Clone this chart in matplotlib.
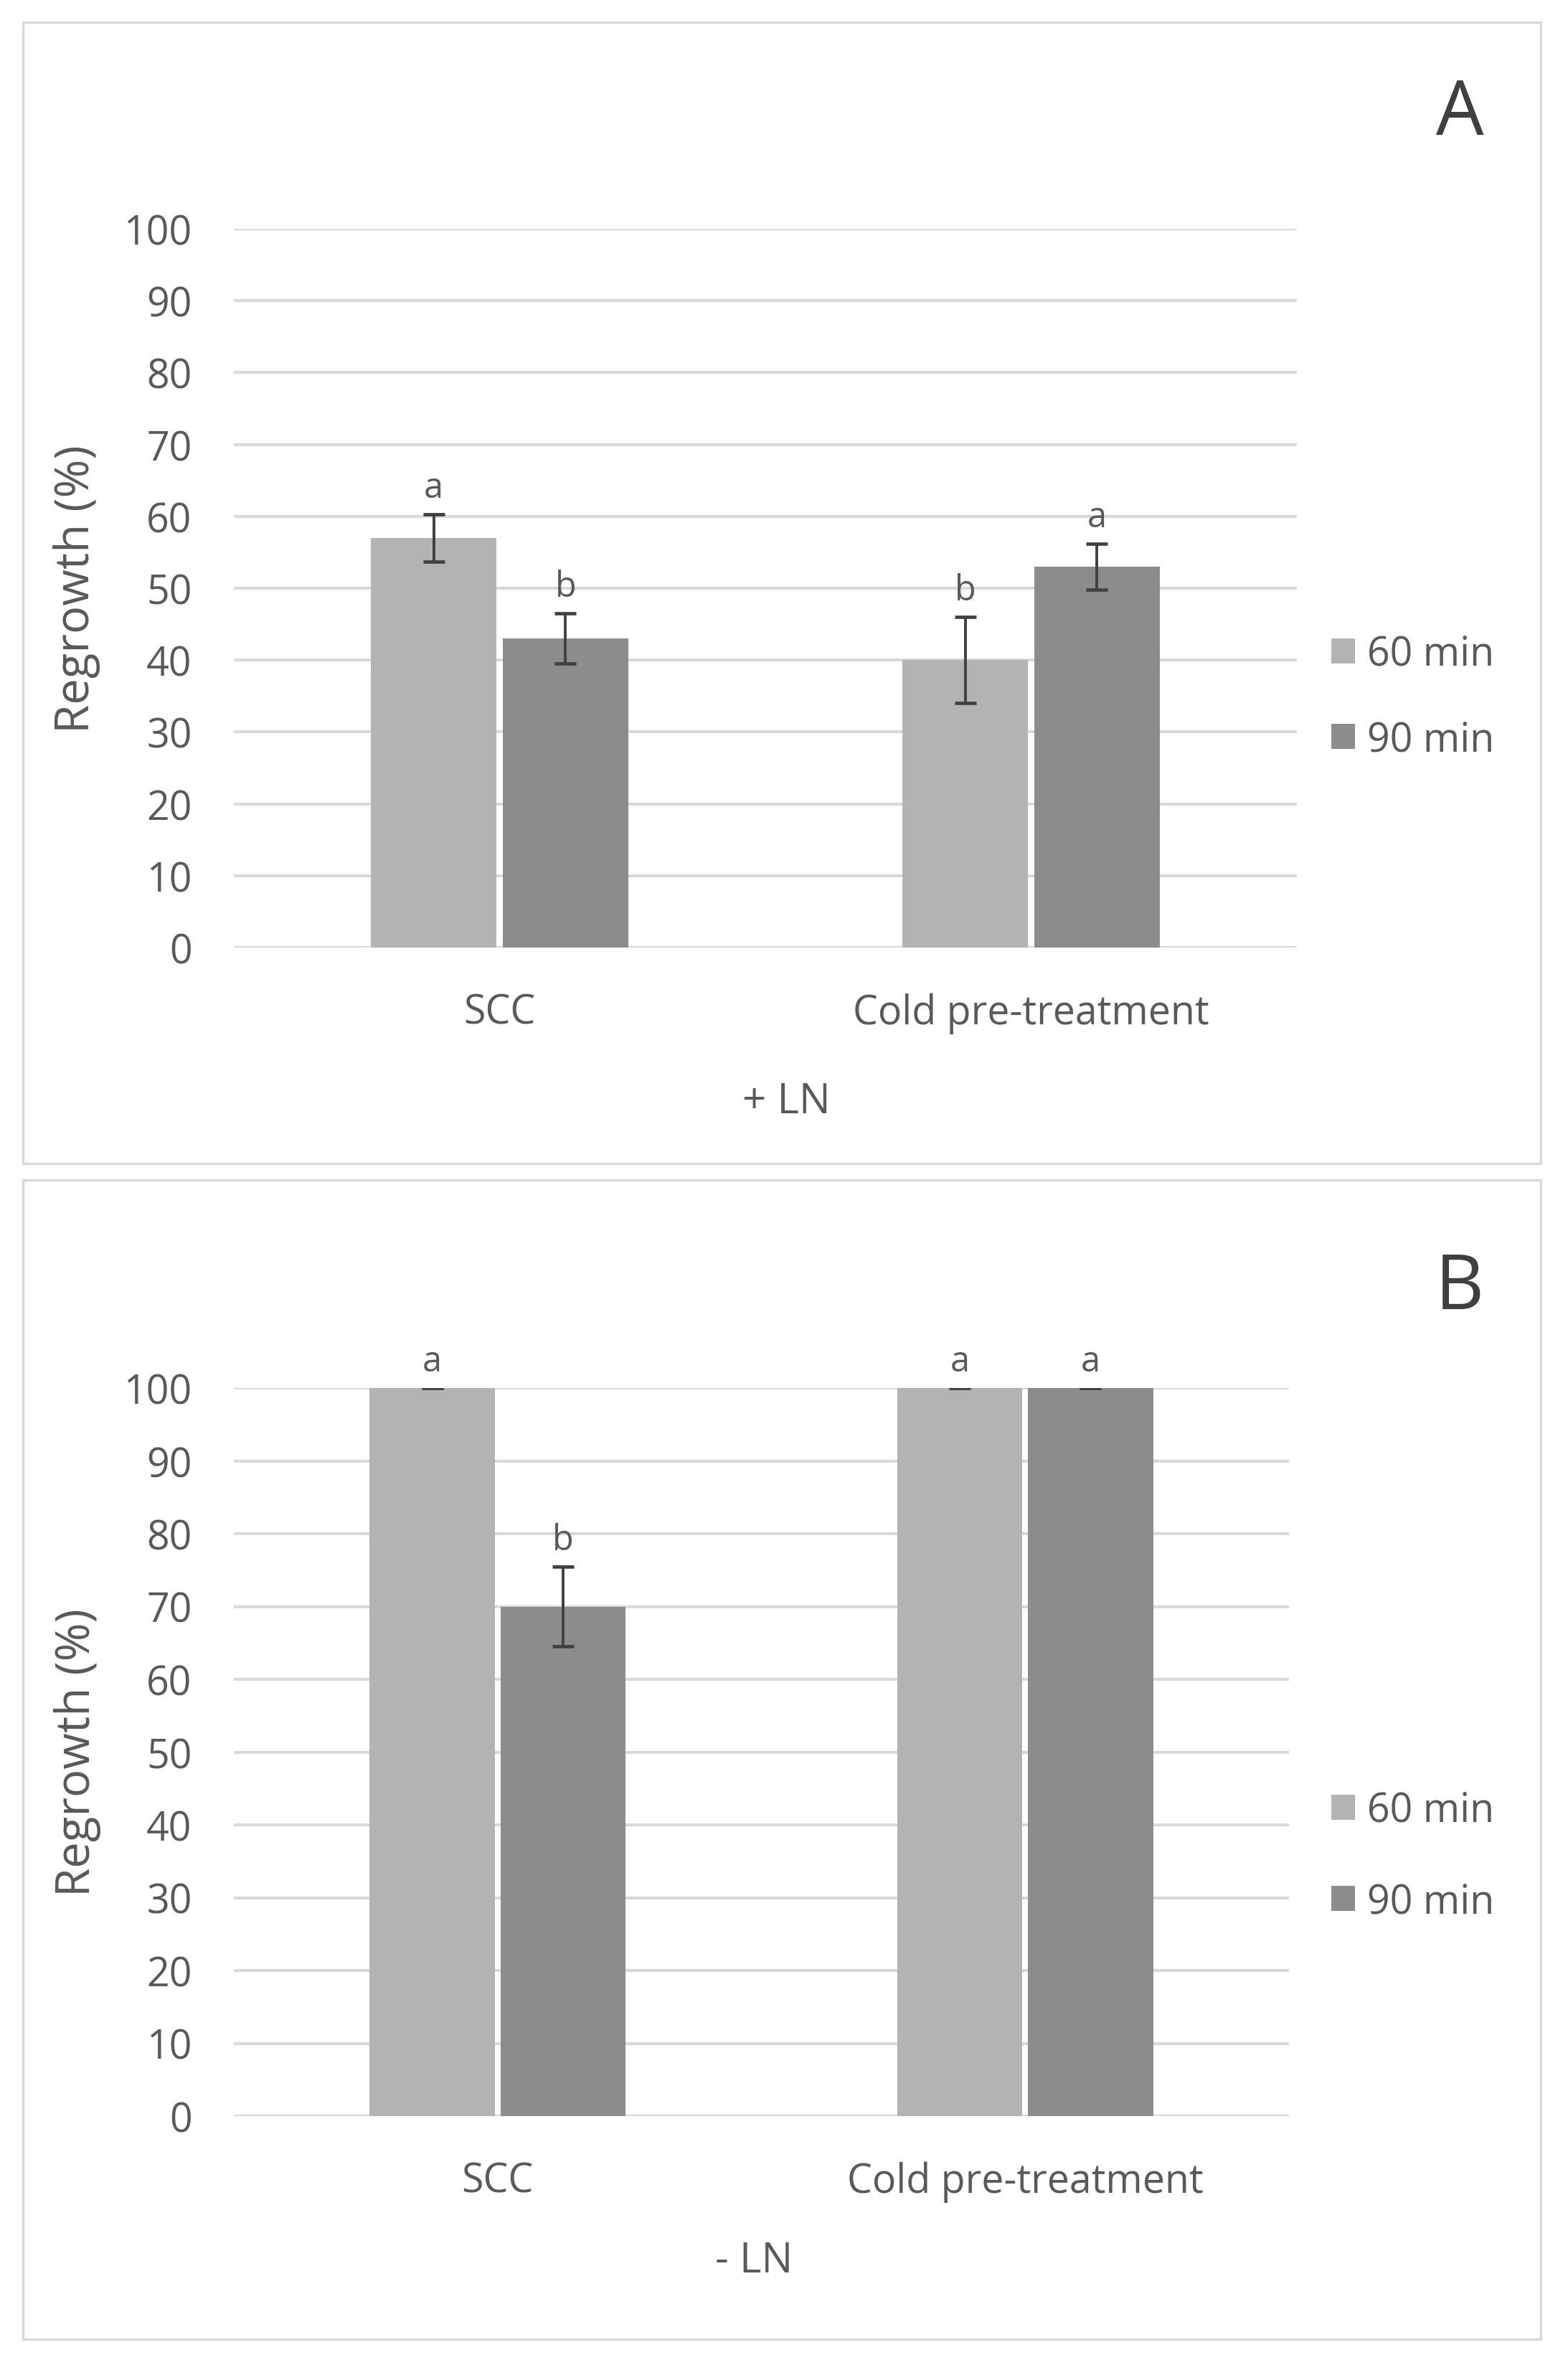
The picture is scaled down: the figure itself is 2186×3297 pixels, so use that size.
import matplotlib
matplotlib.use("Agg")
import matplotlib.pyplot as plt
from matplotlib.patches import Rectangle, Patch
import numpy as np

plt.rcParams['font.family'] = ['Open Sans', 'DejaVu Sans']

categories = ["SCC", "Cold pre-treatment"]
series = ["60 min", "90 min"]

# Panel A (+ LN)
a_60 = [57, 40]
a_90 = [43, 53]
a_60_err = [3.3, 6.0]
a_90_err = [3.5, 3.2]
a_60_letters = ["a", "b"]
a_90_letters = ["b", "a"]

# Panel B (- LN)
b_60 = [100, 100]
b_90 = [70, 100]
b_60_err = [0, 0]
b_90_err = [5.5, 0]
b_60_letters = ["a", "a"]
b_90_letters = ["b", "a"]

yticks = list(range(0, 101, 10))

c60 = "#b3b3b3"
c90 = "#8c8c8c"
grid_c = "#d9d9d9"
text_c = "#595959"
err_c = "#404040"

W, H = 2186, 3298
fig = plt.figure(figsize=(W / 100, H / 100), dpi=100)


def fx(px):
    return px / W


def fy(py):
    return 1 - py / H


def panel(rect_px, ax_px, v60, v90, e60, e90, l60, l90, xlab, xlab_pos, letter, letter_pos, leg_y, leg_sp):
    x0, y0, x1, y1 = rect_px
    fig.patches.append(Rectangle((fx(x0), fy(y1)), fx(x1) - fx(x0), fy(y0) - fy(y1),
                                 transform=fig.transFigure, fill=False,
                                 edgecolor=grid_c, linewidth=2.4))
    ax_l, ax_t, ax_r, ax_b = ax_px
    ax = fig.add_axes([fx(ax_l), fy(ax_b), fx(ax_r) - fx(ax_l), fy(ax_t) - fy(ax_b)])
    x = np.arange(len(categories))
    w = 0.237
    off = 0.124
    ekw = dict(ecolor=err_c, elinewidth=2.8, capsize=11, capthick=3.4)
    ax.bar(x - off, v60, w, color=c60, yerr=e60, error_kw=ekw, zorder=3, label=series[0])
    ax.bar(x + off, v90, w, color=c90, yerr=e90, error_kw=ekw, zorder=3, label=series[1])
    for xi, v, e, t in zip(x - off, v60, e60, l60):
        ax.annotate(t, (xi, v + e), xytext=(0, 17), textcoords="offset points",
                    ha="center", va="baseline", fontsize=35, color=text_c, annotation_clip=False)
    for xi, v, e, t in zip(x + off, v90, e90, l90):
        ax.annotate(t, (xi, v + e), xytext=(0, 17), textcoords="offset points",
                    ha="center", va="baseline", fontsize=35, color=text_c, annotation_clip=False)
    ax.set_xlim(-0.5, 1.5)
    ax.set_ylim(0, 100)
    ax.set_yticks(yticks)
    ax.set_xticks(x)
    ax.set_xticklabels(categories)
    ax.tick_params(axis="both", length=0, labelsize=40, colors=text_c)
    ax.tick_params(axis="y", pad=42)
    ax.tick_params(axis="x", pad=45)
    for s in ax.spines.values():
        s.set_visible(False)
    ax.yaxis.grid(True, color=grid_c, linewidth=3.0, zorder=0)
    ax.set_axisbelow(True)
    ax.text(-0.148, 0.5, "Regrowth (%)", transform=ax.transAxes, rotation=90,
            ha="center", va="center", fontsize=47, color=text_c)
    ax.text(xlab_pos[0], xlab_pos[1], xlab, transform=ax.transAxes, ha="center", va="center",
            fontsize=42, color=text_c)
    fig.text(letter_pos[0], letter_pos[1], letter, ha="center", va="center", fontsize=76, color=err_c)
    handles = [Patch(facecolor=c60), Patch(facecolor=c90)]
    fig.legend(handles, series, loc="center left", bbox_to_anchor=(fx(1856), leg_y),
               frameon=False, fontsize=40, handlelength=0.6, handleheight=0.6,
               handletextpad=0.3, labelspacing=leg_sp, borderpad=0, borderaxespad=0,
               labelcolor=text_c)
    return ax


panel((32, 32, 2148, 1623), (326, 320, 1808, 1322), a_60, a_90, a_60_err, a_90_err,
      a_60_letters, a_90_letters, "+ LN", (0.520, -0.214), "A", (fx(2035), fy(160)),
      fy(973), 1.12)
panel((32, 1646, 2148, 3262), (326, 1936, 1797, 2951), b_60, b_90, b_60_err, b_90_err,
      b_60_letters, b_90_letters, "- LN", (0.493, -0.199), "B", (fx(2035), fy(1797)),
      fy(2589), 1.27)

fig.savefig("out.png", dpi=100)
